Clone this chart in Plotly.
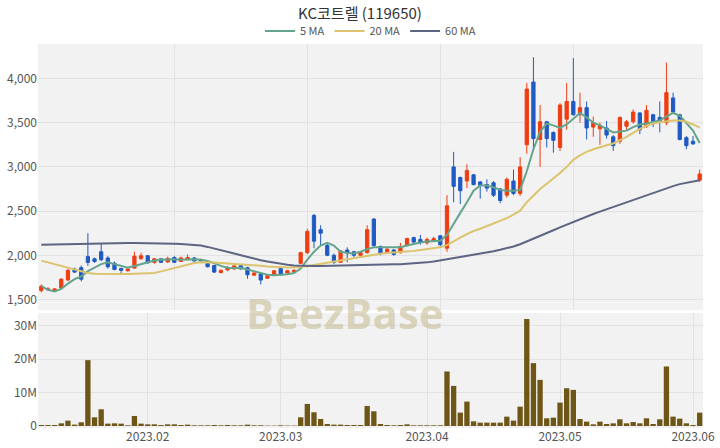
import pandas as pd
import plotly.graph_objects as go

# ---- data ----
holidays = ["2023-01-23", "2023-01-24", "2023-03-01", "2023-05-01", "2023-05-05", "2023-05-29"]
dates = [d.strftime("%Y-%m-%d") for d in pd.bdate_range("2023-01-06", "2023-06-02")
         if d.strftime("%Y-%m-%d") not in holidays]

opens = [1600, 1610, 1595, 1630, 1720, 1845, 1860, 1985, 1960, 2040,
         1970, 1910, 1850, 1825, 1855, 1960, 1995, 1920, 1960, 1925,
         1975, 1930, 1950, 1970, 1950, 1910, 1885, 1805, 1835, 1845,
         1885, 1860, 1775, 1790, 1740, 1775, 1850, 1800, 1815, 1910,
         2030, 2450, 2290, 2110, 2000, 1920, 2060, 2040, 2000, 2030,
         2410, 2100, 2030, 2060, 2030, 2110, 2200, 2180, 2140, 2160,
         2220, 2080, 3000, 2880, 2840, 2910, 2830, 2800, 2820, 2750,
         2680, 2840, 2700, 3250, 3960, 3310, 3510, 3390, 3220, 3540,
         3740, 3590, 3670, 3450, 3430, 3440, 3340, 3290, 3460, 3510,
         3610, 3460, 3590, 3560, 3500, 3780, 3590, 3330, 3290, 2850]
highs = [1670, 1640, 1630, 1740, 1845, 1860, 1885, 2250, 1975, 2130,
         1990, 1930, 1860, 1850, 2040, 2030, 2000, 1970, 1965, 1985,
         1990, 1985, 2010, 1980, 1960, 1915, 1890, 1840, 1880, 1890,
         1890, 1870, 1820, 1800, 1775, 1830, 1855, 1835, 1840, 2040,
         2300, 2470, 2340, 2130, 2020, 2060, 2090, 2050, 2040, 2340,
         2420, 2110, 2080, 2070, 2140, 2200, 2210, 2230, 2200, 2210,
         2230, 2680, 3170, 2890, 3030, 2920, 2840, 2860, 2840, 2760,
         2880, 2970, 3110, 3950, 4240, 3700, 3520, 3400, 3720, 3950,
         4230, 3840, 3740, 3570, 3500, 3520, 3360, 3570, 3530, 3650,
         3620, 3700, 3600, 3740, 4180, 3840, 3600, 3350, 3350, 2970]
lows = [1580, 1600, 1585, 1620, 1710, 1800, 1705, 1880, 1915, 1935,
        1850, 1830, 1790, 1815, 1850, 1955, 1905, 1905, 1915, 1915,
        1915, 1925, 1945, 1930, 1930, 1865, 1800, 1795, 1820, 1840,
        1840, 1735, 1770, 1670, 1735, 1770, 1770, 1795, 1810, 1900,
        2010, 2080, 2110, 1990, 1900, 1915, 1920, 1980, 1990, 2020,
        2100, 2000, 2015, 1995, 2020, 2100, 2140, 2120, 2120, 2150,
        2100, 2040, 2600, 2580, 2760, 2790, 2640, 2720, 2660, 2590,
        2650, 2680, 2670, 3150, 3200, 3000, 3220, 3160, 3180, 3420,
        3580, 3500, 3310, 3340, 3250, 3320, 3180, 3260, 3420, 3490,
        3370, 3440, 3450, 3390, 3470, 3600, 3300, 3200, 3250, 2830]
closes = [1650, 1620, 1620, 1730, 1830, 1810, 1730, 1920, 1930, 1950,
          1870, 1840, 1830, 1845, 1990, 1995, 1915, 1960, 1920, 1965,
          1920, 1970, 1975, 1935, 1935, 1870, 1810, 1830, 1860, 1880,
          1845, 1780, 1800, 1720, 1770, 1825, 1780, 1825, 1830, 2030,
          2270, 2160, 2250, 2000, 1920, 2050, 2025, 2000, 2030, 2290,
          2110, 2020, 2070, 2010, 2100, 2190, 2150, 2150, 2180, 2190,
          2120, 2560, 2780, 2730, 2960, 2800, 2790, 2760, 2680, 2620,
          2860, 2700, 3000, 3880, 3320, 3510, 3320, 3300, 3700, 3740,
          3590, 3670, 3440, 3500, 3470, 3360, 3240, 3560, 3510, 3620,
          3420, 3640, 3520, 3520, 3840, 3620, 3310, 3240, 3260, 2920]
volumes_m = [0.3, 0.3, 0.3, 0.8, 1.6, 0.4, 1.1, 19.7, 2.6, 5.0,
             0.7, 0.8, 0.7, 0.2, 3.0, 0.7, 0.5, 0.5, 0.3, 0.5,
             0.5, 0.3, 0.4, 0.2, 0.2, 0.2, 0.3, 0.2, 0.3, 0.2,
             0.2, 0.4, 0.2, 0.2, 0.1, 0.1, 0.2, 0.1, 0.1, 2.6,
             6.6, 4.1, 2.1, 0.6, 0.4, 0.4, 0.3, 0.3, 0.3, 6.0,
             4.4, 0.6, 0.3, 0.2, 0.3, 0.5, 0.2, 0.2, 0.2, 0.2,
             0.2, 16.3, 12.0, 4.0, 7.3, 1.4, 1.0, 1.0, 1.0, 1.0,
             2.8, 1.6, 5.8, 32.0, 18.8, 13.8, 2.3, 2.5, 7.0, 11.3,
             10.8, 2.1, 1.3, 0.5, 1.3, 0.6, 0.8, 2.0, 0.8, 1.2,
             0.8, 2.3, 0.6, 2.0, 17.8, 2.8, 2.2, 0.8, 0.3, 4.0]
ma5 = [1650, 1610, 1590, 1620, 1680, 1730, 1760, 1820, 1860, 1900,
       1920, 1900, 1880, 1860, 1880, 1900, 1920, 1940, 1950, 1955,
       1955, 1950, 1955, 1955, 1950, 1935, 1910, 1880, 1860, 1855,
       1860, 1840, 1815, 1795, 1780, 1775, 1780, 1785, 1800, 1850,
       1950, 2040, 2110, 2140, 2110, 2040, 2025, 2020, 2040, 2070,
       2090, 2090, 2085, 2085, 2090, 2110, 2130, 2145, 2155, 2160,
       2165, 2230, 2360, 2480, 2600, 2730, 2790, 2790, 2770, 2740,
       2730, 2730, 2740, 2950, 3200, 3400, 3490, 3470, 3440, 3480,
       3545, 3610, 3560, 3500, 3470, 3430, 3390, 3400, 3410, 3450,
       3480, 3490, 3510, 3525, 3570, 3610, 3580, 3500, 3410, 3270]
ma20 = [1940, 1920, 1900, 1878, 1855, 1835, 1815, 1800, 1792, 1790,
        1790, 1789, 1788, 1788, 1790, 1792, 1795, 1800, 1818, 1838,
        1858, 1878, 1898, 1912, 1920, 1921, 1918, 1914, 1910, 1906,
        1902, 1897, 1890, 1882, 1874, 1868, 1864, 1862, 1862, 1865,
        1875, 1890, 1905, 1918, 1930, 1942, 1955, 1968, 1980, 1995,
        2008, 2018, 2025, 2030, 2035, 2042, 2050, 2060, 2070, 2080,
        2090, 2115, 2160, 2200, 2240, 2275, 2300, 2330, 2360, 2390,
        2420, 2460, 2505, 2600, 2680, 2750, 2810, 2865, 2930, 3000,
        3080, 3130, 3170, 3200, 3225, 3245, 3265, 3300, 3340, 3385,
        3430, 3465, 3490, 3505, 3515, 3525, 3525, 3510, 3480, 3445]
ma60 = [2120, 2122, 2124, 2126, 2128, 2130, 2132, 2133, 2134, 2135,
        2136, 2137, 2137, 2138, 2138, 2138, 2138, 2137, 2136, 2135,
        2132, 2128, 2124, 2118, 2110, 2095, 2078, 2060, 2040, 2020,
        2000, 1980, 1960, 1945, 1930, 1915, 1903, 1893, 1886, 1882,
        1880, 1879, 1879, 1880, 1881, 1882, 1884, 1886, 1888, 1890,
        1892, 1894, 1896, 1898, 1900, 1903, 1906, 1912, 1920, 1930,
        1942, 1955, 1968, 1980, 1992, 2004, 2016, 2030, 2045, 2062,
        2080, 2100, 2125, 2155, 2187, 2219, 2251, 2283, 2315, 2347,
        2380, 2412, 2440, 2467, 2494, 2521, 2548, 2575, 2602, 2628,
        2654, 2680, 2706, 2732, 2757, 2782, 2805, 2822, 2835, 2848]

month_ticks = ["2023-02-01", "2023-03-02", "2023-04-03", "2023-05-02", "2023-06-01"]
month_labels = ["2023.02", "2023.03", "2023.04", "2023.05", "2023.06"]
price_ticks = [1500, 2000, 2500, 3000, 3500, 4000]
vol_ticks = [0, 10e6, 20e6, 30e6]
vol_labels = ["0", "10M", "20M", "30M"]

volumes = [v * 1e6 for v in volumes_m]
top_grid = [dates[i] for i in (20, 40, 60, 80)]

UP = "#ef3d12"
DOWN = "#1f5ac4"
FONT = "Noto Sans CJK KR"

fig = go.Figure()
fig.add_trace(go.Candlestick(
    x=dates, open=opens, high=highs, low=lows, close=closes,
    increasing=dict(line=dict(color=UP, width=1), fillcolor=UP),
    decreasing=dict(line=dict(color=DOWN, width=1), fillcolor=DOWN),
    whiskerwidth=0, showlegend=False, xaxis="x", yaxis="y", name="price"))
fig.add_trace(go.Scatter(x=dates, y=ma5, mode="lines", name="5 MA",
                         line=dict(color="#64a48c", width=2), xaxis="x", yaxis="y"))
fig.add_trace(go.Scatter(x=dates, y=ma20, mode="lines", name="20 MA",
                         line=dict(color="#dcc36e", width=2), xaxis="x", yaxis="y"))
fig.add_trace(go.Scatter(x=dates, y=ma60, mode="lines", name="60 MA",
                         line=dict(color="#5d6582", width=2), xaxis="x", yaxis="y"))
fig.add_trace(go.Bar(x=dates, y=volumes, marker=dict(color="#6e5617", line=dict(width=0)),
                     showlegend=False, xaxis="x2", yaxis="y2", name="volume"))

fig.update_layout(
    width=720, height=448,
    margin=dict(l=38, r=17, t=44, b=20, autoexpand=False),
    paper_bgcolor="white", plot_bgcolor="#f2f2f2",
    font=dict(family=FONT, color="#555", size=12),
    title=dict(text="KC코트렐 (119650)", x=0.5, xanchor="center", y=0.969, yref="container",
               yanchor="middle", font=dict(size=15, color="#333", family=FONT), automargin=False),
    legend=dict(orientation="h", x=0.5, xanchor="center", yref="container", y=0.931,
                yanchor="middle", font=dict(size=11, color="#555"), bgcolor="rgba(0,0,0,0)",
                itemwidth=30, tracegroupgap=0),
    bargap=0.2,
    showlegend=True,
    xaxis=dict(type="category", domain=[0, 1], anchor="y", rangeslider=dict(visible=False),
               tickmode="array", tickvals=top_grid, showticklabels=False, automargin=False,
               showgrid=True, gridcolor="#e2e2e2", gridwidth=1, zeroline=False,
               range=[-0.5, len(dates) - 0.5]),
    yaxis=dict(domain=[0.307, 1], anchor="x", range=[1380, 4390], tickvals=price_ticks,
               tickformat=",", showgrid=True, gridcolor="#e2e2e2", zeroline=False,
               ticks="", automargin=False, tickfont=dict(size=12, color="#555")),
    xaxis2=dict(type="category", domain=[0, 1], anchor="y2", matches="x", automargin=False,
                tickmode="array", tickvals=month_ticks, ticktext=month_labels,
                showgrid=True, gridcolor="#e2e2e2", zeroline=False, ticks="",
                tickfont=dict(size=12, color="#555"), range=[-0.5, len(dates) - 0.5]),
    yaxis2=dict(domain=[0, 0.2995], anchor="x2", range=[-0.6e6, 33.8e6], tickvals=vol_ticks,
                ticktext=vol_labels, showgrid=True, gridcolor="#e2e2e2", zeroline=False,
                ticks="", automargin=False, tickfont=dict(size=12, color="#555")),
    hovermode=False,
)

fig.add_annotation(text="<b>BeezBase</b>", xref="paper", yref="paper", x=0.4617, y=0.302,
                   xanchor="center", yanchor="middle", showarrow=False,
                   font=dict(size=42, color="rgba(196,184,140,0.55)", family="Open Sans"))

fig.write_html("out.html", config={"displayModeBar": False, "staticPlot": True},
               post_script="document.body.style.margin='0';document.body.style.overflow='hidden';")
